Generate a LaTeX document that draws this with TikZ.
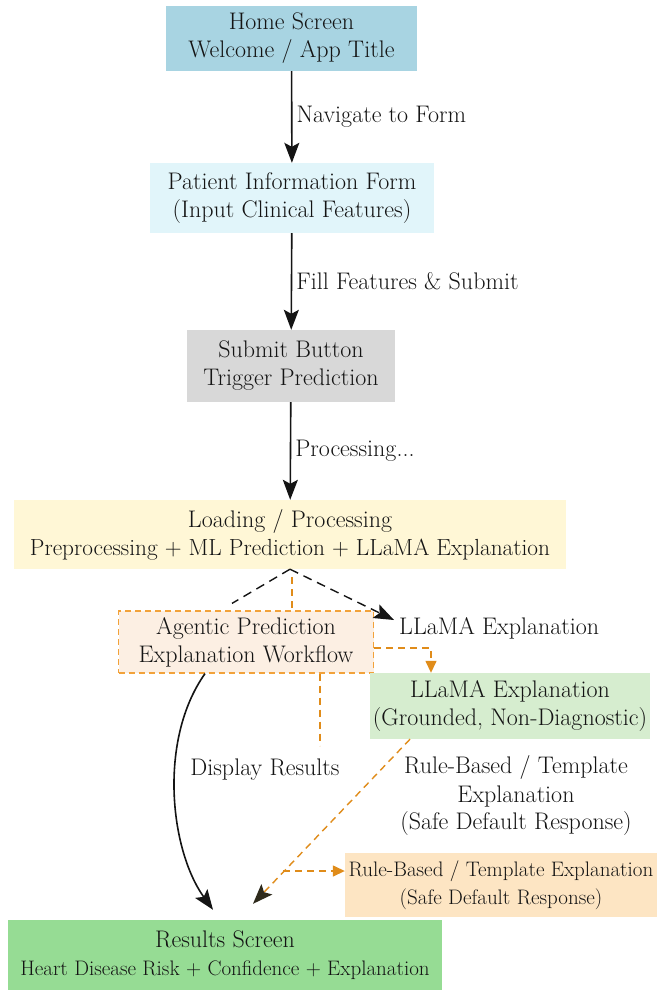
\documentclass[tikz,border=0pt]{standalone}
\usetikzlibrary{arrows.meta}

\definecolor{ink}{HTML}{141414}
\definecolor{homefill}{HTML}{A8D4E2}
\definecolor{formfill}{HTML}{E1F5FA}
\definecolor{submitfill}{HTML}{D8D8D8}
\definecolor{loadfill}{HTML}{FFF7D6}
\definecolor{agentfill}{HTML}{FCEFE3}
\definecolor{agentline}{HTML}{F2A23A}
\definecolor{llamafill}{HTML}{D6EDCF}
\definecolor{rulefill}{HTML}{FDE5C3}
\definecolor{resfill}{HTML}{96DC94}
\definecolor{flowor}{HTML}{E08C1A}
\definecolor{tipdark}{HTML}{2E2A1C}

\newcommand\mainfs{\fontsize{24}{28}\selectfont}
\newcommand\smallfs{\fontsize{21}{28}\selectfont}

\tikzset{
  box/.style={rectangle, inner sep=0pt, align=center, text=ink, font=\mainfs},
  lbl/.style={inner sep=0pt, text=ink, font=\mainfs, align=center},
  bigtip/.style={-{Stealth[length=20pt,width=15pt,inset=4pt]}},
  flow/.style={draw=ink, line width=1.6pt, bigtip},
  dflow/.style={draw=ink, line width=1.4pt, dash pattern=on 9pt off 6pt},
  oflow/.style={draw=flowor, line width=1.4pt, dash pattern=on 7pt off 5pt},
}

\begin{document}
\begin{tikzpicture}[x=1pt,y=-1pt]
\useasboundingbox[fill=white] (0,0) rectangle (657,997);

% main screens
\node[box, fill=homefill, minimum width=251pt, minimum height=65pt] (home) at (291.5,38.5)
  {Home Screen\\Welcome / App Title};
\node[box, fill=formfill, minimum width=284pt, minimum height=70pt] (form) at (292,198)
  {Patient Information Form\\(Input Clinical Features)};
\node[box, fill=submitfill, minimum width=208pt, minimum height=72pt] (submit) at (291,366)
  {Submit Button\\Trigger Prediction};
\node[box, fill=loadfill, minimum width=552pt, minimum height=69pt] (load) at (290,534.5)
  {Loading / Processing\\{\fontsize{23.3}{28}\selectfont Preprocessing + ML Prediction + LLaMA Explanation}};

% agentic workflow and explanation branches
\node[box, fill=agentfill, draw=agentline, line width=1.2pt, dash pattern=on 6pt off 4pt,
      minimum width=255pt, minimum height=62pt] (ag) at (246,642)
  {Agentic Prediction\\Explanation Workflow};
\node[box, fill=llamafill, minimum width=280pt, minimum height=66pt] (llama) at (510,706)
  {LLaMA Explanation\\(Grounded, Non-Diagnostic)};
\node[box, fill=rulefill, font=\smallfs, minimum width=312pt, minimum height=64pt] (rule) at (501,885)
  {Rule-Based / Template Explanation\\(Safe Default Response)};
\node[box, fill=resfill, minimum width=434pt, minimum height=70pt] (res) at (225,955)
  {Results Screen\\{\smallfs Heart Disease Risk + Confidence + Explanation}};

% free-standing labels
\node[lbl, anchor=west] (llamalbl) at (399,628) {LLaMA Explanation};
\node[lbl] (displbl) at (265,770) {Display Results};
\node[lbl] (rulelbl) at (516,796) {Rule-Based / Template\\Explanation\\(Safe Default Response)};

% main flow
\draw[flow] (home) -- node[lbl, anchor=west, xshift=4pt] (navlbl) {Navigate to Form} (form);
\draw[flow] (form) -- node[lbl, anchor=west, xshift=4pt] (filllbl) {Fill Features \& Submit} (submit);
\draw[flow] (submit) -- node[lbl, anchor=west, xshift=4pt] (proclbl) {Processing...} (load);

% branches out of the processing step
\draw[dflow] (load.south) -- ([xshift=-14pt,yshift=7pt]ag.north);
\draw[dflow, bigtip] (load.south) -- ([xshift=-5pt,yshift=8pt]llamalbl.west);
\draw[oflow] ([xshift=2pt,yshift=-8pt]load.south) -- ([xshift=2pt]load.south |- ag.north);

% agentic workflow outputs
\draw[oflow, -{Triangle[length=12pt,width=11pt]}] ([yshift=-6pt]ag.east) -| ([xshift=-79pt]llama.north);
\draw[oflow] ([xshift=74pt]ag.south) -- ++(0,72);

% results display
\draw[flow] ([xshift=-41pt]ag.south) .. controls (158,740) and (170,850) .. ([xshift=-12pt,yshift=10pt]res.north);

% fallback path
\draw[oflow, -{Stealth[length=20pt,width=15pt,inset=4pt,color=tipdark]}]
  ([xshift=-100pt]llama.south) -- ([xshift=28pt,yshift=16pt]res.north);
\coordinate (fork) at (283,871);
\draw[oflow, -{Triangle[length=12pt,width=11pt]}] (fork) -- ([yshift=14pt]rule.west);
\end{tikzpicture}
\end{document}
